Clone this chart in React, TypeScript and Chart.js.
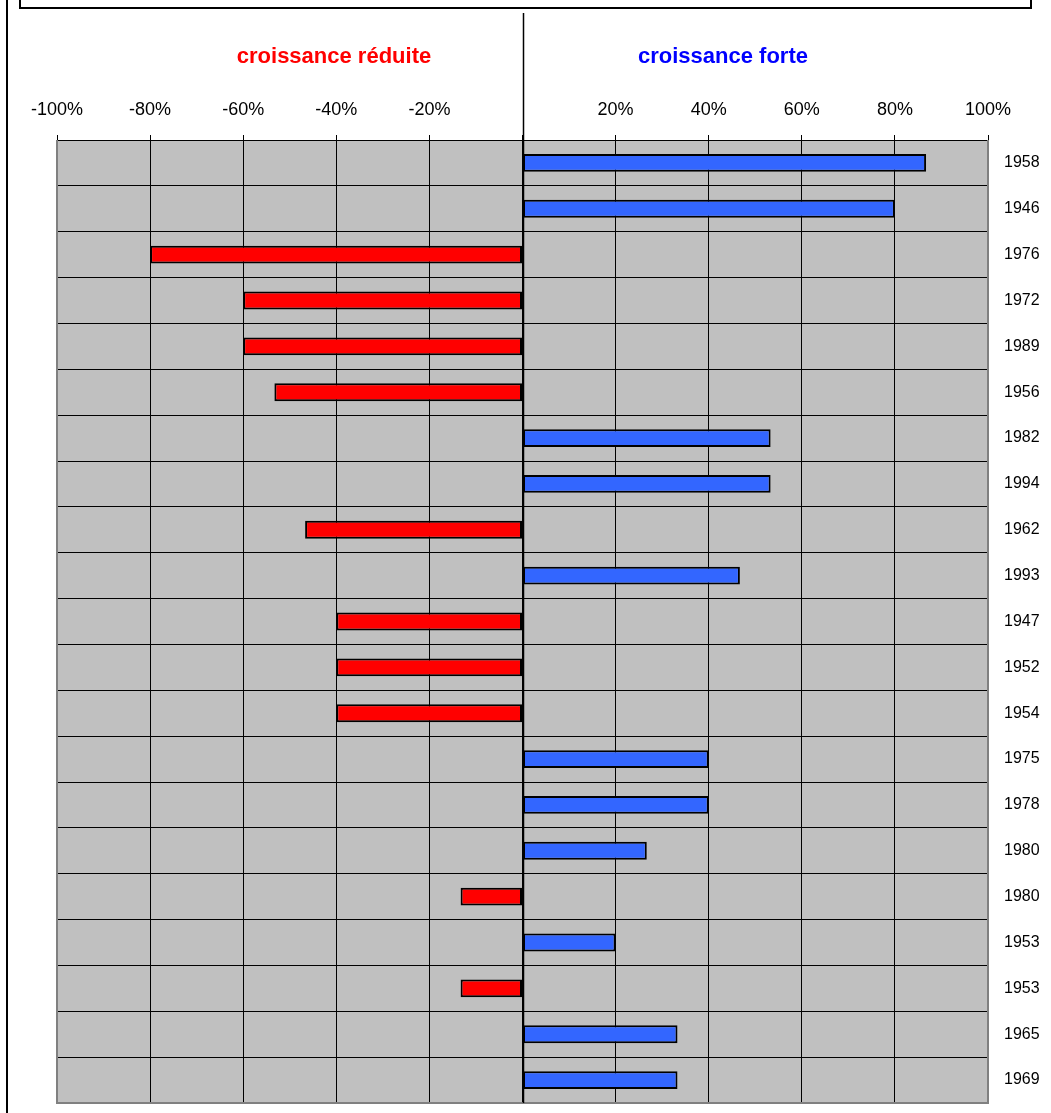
import React, { useEffect, useRef } from "react";
import { Chart, registerables } from "chart.js";

Chart.register(...registerables);

const years: string[] = [
  "1958", "1946", "1976", "1972", "1989", "1956", "1982", "1994", "1962", "1993",
  "1947", "1952", "1954", "1975", "1978", "1980", "1980", "1953", "1953", "1965", "1969",
];

const growth: number[] = [
  86.7, 80, -80, -60, -60, -53.3, 53.3, 53.3, -46.7, 46.7,
  -40, -40, -40, 40, 40, 26.7, -13.3, 20, -13.3, 33.3, 33.3,
];

const headerLow = "croissance réduite";
const headerHigh = "croissance forte";

const FONT = "'Liberation Sans', Arial, sans-serif";

const decorPlugin = {
  id: "decor",
  beforeDraw(chart: any) {
    const { ctx, chartArea } = chart;
    ctx.save();
    ctx.fillStyle = "#C0C0C0";
    ctx.fillRect(chartArea.left, chartArea.top, chartArea.right - chartArea.left, chartArea.bottom - chartArea.top);
    ctx.restore();
  },
  afterDraw(chart: any) {
    const { ctx, chartArea } = chart;
    const xs = chart.scales.x;
    const x0 = Math.round(xs.getPixelForValue(0)) + 0.5;
    ctx.save();
    ctx.strokeStyle = "#808080";
    ctx.lineWidth = 2;
    ctx.beginPath();
    ctx.moveTo(chartArea.left, chartArea.top);
    ctx.lineTo(chartArea.left, chartArea.bottom);
    ctx.lineTo(chartArea.right, chartArea.bottom);
    ctx.lineTo(chartArea.right, chartArea.top);
    ctx.stroke();
    ctx.strokeStyle = "#000000";
    ctx.lineWidth = 1.5;
    ctx.beginPath();
    ctx.moveTo(x0, 13);
    ctx.lineTo(x0, chartArea.bottom);
    ctx.stroke();
    ctx.lineWidth = 2;
    ctx.beginPath();
    ctx.moveTo(7, 0);
    ctx.lineTo(7, chart.height);
    ctx.stroke();
    ctx.strokeRect(20, -10, 1011, 18);
    ctx.font = `bold 22px ${FONT}`;
    ctx.textAlign = "center";
    ctx.textBaseline = "middle";
    ctx.fillStyle = "#FF0000";
    ctx.fillText(headerLow, 334, 57);
    ctx.fillStyle = "#0000FF";
    ctx.fillText(headerHigh, 723, 57);
    ctx.restore();
  },
};

export default function App() {
  const ref = useRef<HTMLCanvasElement | null>(null);
  useEffect(() => {
    if (!ref.current) return;
    const chart = new Chart(ref.current, {
      type: "bar",
      data: {
        labels: years,
        datasets: [
          {
            data: growth,
            backgroundColor: growth.map((v) => (v < 0 ? "#FF0000" : "#3366FF")),
            borderColor: "#000000",
            borderWidth: 2,
            borderSkipped: false,
            barPercentage: 0.39,
            categoryPercentage: 1,
          },
        ],
      },
      options: {
        indexAxis: "y",
        responsive: false,
        animation: false,
        devicePixelRatio: 1,
        layout: { padding: { left: 57, right: 0, top: 0, bottom: 10 } },
        plugins: { legend: { display: false }, tooltip: { enabled: false }, title: { display: false } },
        scales: {
          x: {
            type: "linear",
            position: "top",
            min: -100,
            max: 100,
            afterFit: (s: any) => {
              s.height = 140;
              s.paddingLeft = 0;
              s.paddingRight = 0;
            },
            ticks: {
              stepSize: 20,
              padding: 14,
              color: "#000000",
              font: { family: FONT, size: 18 },
              callback: (v: any) => (Number(v) === 0 ? "" : `${v}%`),
            },
            grid: { color: "#000000", lineWidth: 1, drawTicks: true, tickLength: 5, tickColor: "#000000" },
            border: { display: true, color: "#000000", width: 1 },
          },
          y: {
            type: "category",
            position: "right",
            afterFit: (s: any) => {
              s.width = 63;
              s.paddingTop = 0;
              s.paddingBottom = 0;
            },
            ticks: {
              padding: 16,
              color: "#000000",
              font: { family: FONT, size: 16 },
            },
            grid: { color: "#000000", lineWidth: 1, drawTicks: false, offset: true },
            border: { display: false },
          },
        },
      },
      plugins: [decorPlugin],
    });
    return () => chart.destroy();
  }, []);
  return (
    <div style={{ position: "absolute", left: 0, top: 0, width: 1051, height: 1113, background: "#ffffff" }}>
      <canvas ref={ref} width={1051} height={1113} style={{ width: 1051, height: 1113, display: "block" }} />
    </div>
  );
}
